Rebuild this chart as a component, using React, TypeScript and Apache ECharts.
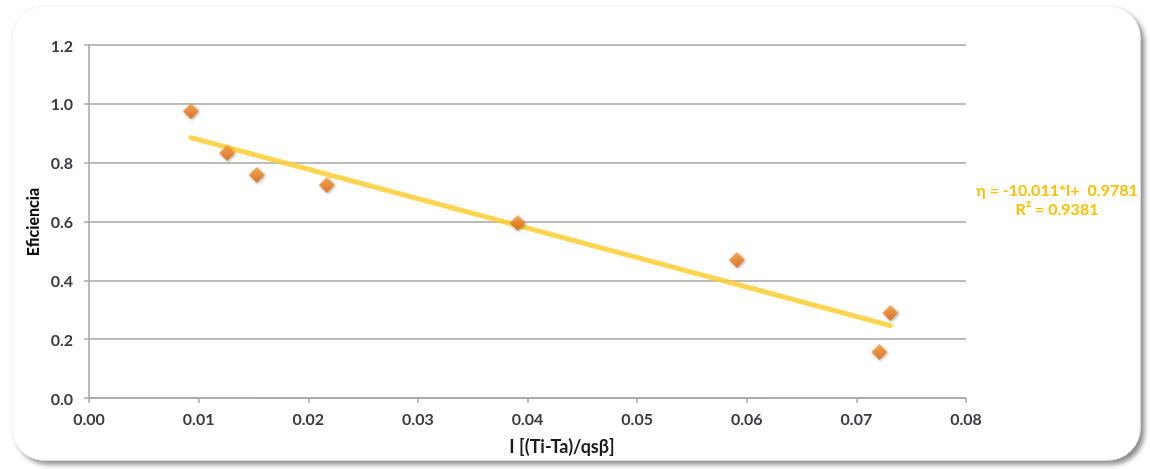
import React, { useEffect, useRef } from "react";
import * as echarts from "echarts";

const xValues = [0.0093, 0.0126, 0.0153, 0.0217, 0.0391, 0.0591, 0.0731, 0.0721];
const yValues = [0.975, 0.833, 0.758, 0.724, 0.595, 0.469, 0.289, 0.156];
const trendSlope = -10.011;
const trendIntercept = 0.9781;
const rSquared = 0.9381;
const xAxisTitle = "I [(Ti-Ta)/qsβ]";
const yAxisTitle = "Eficiencia";

export default function App() {
  const ref = useRef<HTMLDivElement>(null);
  useEffect(() => {
    if (!ref.current) return;
    const chart = echarts.init(ref.current, null, { renderer: "svg" });
    const xMin = Math.min(...xValues);
    const xMax = Math.max(...xValues);
    const trend = [
      [xMin, trendSlope * xMin + trendIntercept],
      [xMax, trendSlope * xMax + trendIntercept],
    ];
    const font = "Lato, 'Open Sans', sans-serif";
    chart.setOption({
      animation: false,
      backgroundColor: "transparent",
      graphic: [
        {
          type: "rect",
          z: -10,
          silent: true,
          shape: { x: 12, y: 6, width: 1128, height: 454, r: 32 },
          style: {
            fill: "#ffffff",
            stroke: "#f0f0f0",
            lineWidth: 1,
            shadowBlur: 5,
            shadowOffsetX: 4,
            shadowOffsetY: 4,
            shadowColor: "rgba(0,0,0,0.45)",
          },
        },
        {
          type: "text",
          x: 1057,
          y: 189,
          style: {
            text: `η = ${trendSlope.toFixed(3)}*I+  ${trendIntercept.toFixed(4)}`,
            fill: "#FFC000",
            font: `bold 16px ${font}`,
            textAlign: "center",
            textVerticalAlign: "middle",
          },
        },
        {
          type: "text",
          x: 1057,
          y: 208,
          style: {
            text: `R² = ${rSquared.toFixed(4)}`,
            fill: "#FFC000",
            font: `bold 16px ${font}`,
            textAlign: "center",
            textVerticalAlign: "middle",
          },
        },
        {
          type: "text",
          x: 562,
          y: 446,
          style: {
            text: xAxisTitle,
            fill: "#1a1a1a",
            font: `bold 18px ${font}`,
            textAlign: "center",
            textVerticalAlign: "middle",
          },
        },
        {
          type: "text",
          x: 32,
          y: 222,
          rotation: Math.PI / 2,
          style: {
            text: yAxisTitle,
            fill: "#111111",
            font: `900 16px ${font}`,
            textAlign: "center",
            textVerticalAlign: "middle",
          },
        },
      ],
      grid: { left: 89, right: 184, top: 45, bottom: 71, containLabel: false },
      xAxis: {
        type: "value",
        min: 0,
        max: 0.08,
        interval: 0.01,
        axisLine: { show: true, lineStyle: { color: "#a6a6a6", width: 1.5 } },
        axisTick: { show: true, length: 5, lineStyle: { color: "#a6a6a6", width: 1.5 } },
        splitLine: { show: false },
        axisLabel: {
          color: "#3a3a44",
          fontWeight: "bold",
          fontSize: 16,
          fontFamily: font,
          margin: 12,
          formatter: (v: number) => v.toFixed(2),
        },
      },
      yAxis: {
        type: "value",
        min: 0,
        max: 1.2,
        interval: 0.2,
        axisLine: { show: true, lineStyle: { color: "#a6a6a6", width: 1.5 } },
        axisTick: { show: true, length: 5, lineStyle: { color: "#a6a6a6", width: 1.5 } },
        splitLine: { show: true, lineStyle: { color: "#a6a6a6", width: 1.5 } },
        axisLabel: {
          color: "#3a3a44",
          fontWeight: "bold",
          fontSize: 16,
          fontFamily: font,
          margin: 16,
          formatter: (v: number) => v.toFixed(1),
        },
      },
      series: [
        {
          type: "line",
          data: trend,
          symbol: "none",
          lineStyle: { color: "rgba(255,204,51,0.85)", width: 5, cap: "round" },
          z: 2,
        },
        {
          type: "scatter",
          data: xValues.map((x, i) => [x, yValues[i]]),
          symbol: "diamond",
          symbolSize: 16,
          itemStyle: {
            color: new echarts.graphic.LinearGradient(0, 0, 0, 1, [
              { offset: 0, color: "#F99A35" },
              { offset: 1, color: "#D8620E" },
            ]),
            shadowBlur: 3,
            shadowOffsetX: 1,
            shadowOffsetY: 1,
            shadowColor: "rgba(0,0,0,0.4)",
          },
          z: 3,
        },
      ],
    });
    return () => chart.dispose();
  }, []);
  return (
    <div
      ref={ref}
      style={{ position: "fixed", left: 0, top: 0, width: 1150, height: 469 }}
    />
  );
}
